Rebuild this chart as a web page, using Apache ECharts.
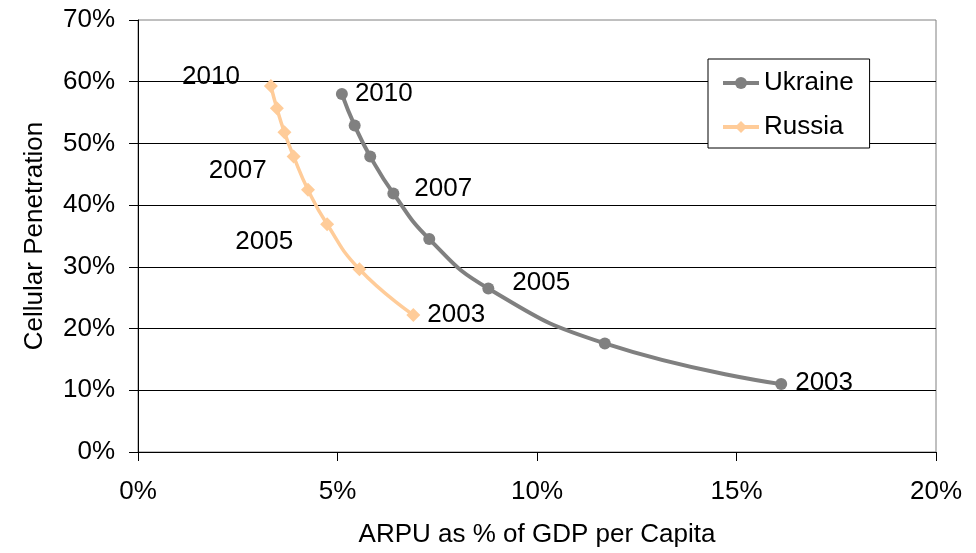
<!DOCTYPE html>
<html>
<head>
<meta charset="utf-8">
<script src="https://cdn.jsdelivr.net/npm/echarts@6/dist/echarts.min.js"></script>
<style>
html,body{margin:0;padding:0;background:#fff;}
#chart{width:976px;height:553px;}
</style>
</head>
<body>
<div id="chart"></div>
<script>
const years = [2003, 2004, 2005, 2006, 2007, 2008, 2009, 2010];
const ukraineX = [16.12, 11.70, 8.78, 7.30, 6.40, 5.82, 5.43, 5.11];
const ukraineY = [11.0, 17.6, 26.5, 34.5, 41.9, 47.9, 52.9, 58.0];
const russiaX = [6.90, 5.55, 4.74, 4.26, 3.90, 3.67, 3.48, 3.33];
const russiaY = [22.2, 29.6, 36.9, 42.5, 47.9, 51.8, 55.7, 59.3];
const labelledYears = [2003, 2005, 2007, 2010];
const xTicks = [0, 5, 10, 15, 20];
const yTicks = [0, 10, 20, 30, 40, 50, 60, 70];

const FONT = "'Liberation Sans', Arial, sans-serif";

// label placement (side, gap from point centre, vertical offset)
const ukraineLabelPlace = {
  2010: ['right', 13, 0],
  2007: ['right', 21, -5],
  2005: ['right', 24, -6],
  2003: ['right', 14, -1]
};
const russiaLabelPlace = {
  2010: ['left', 30, -9],
  2007: ['left', 26, 14],
  2005: ['left', 33, 18],
  2003: ['right', 13, 0]
};

function buildData(xs, ys, place, r) {
  return years.map((yr, i) => {
    const item = { value: [xs[i], ys[i]] };
    if (labelledYears.includes(yr)) {
      const p = place[yr];
      item.label = {
        show: true,
        formatter: String(yr),
        position: p[0],
        distance: p[1] - r,
        offset: [0, p[2]],
        fontSize: 26,
        fontFamily: FONT,
        color: '#000'
      };
    }
    return item;
  });
}

const chart = echarts.init(document.getElementById('chart'));
chart.setOption({
  animation: false,
  backgroundColor: '#fff',
  textStyle: { fontFamily: FONT },
  grid: {
    left: 138, right: 40, top: 20, bottom: 101,
    show: true, borderColor: '#808080', borderWidth: 1
  },
  legend: {
    orient: 'vertical',
    left: 708, top: 59,
    padding: [11, 16, 8, 13],
    itemWidth: 36, itemHeight: 15,
    itemGap: 18,
    borderColor: '#000', borderWidth: 1,
    backgroundColor: '#fff',
    lineStyle: { width: 4 },
    textStyle: { fontSize: 26, fontFamily: FONT, color: '#000' },
    data: ['Ukraine', 'Russia']
  },
  xAxis: {
    type: 'value',
    min: xTicks[0], max: xTicks[xTicks.length - 1], interval: 5,
    name: 'ARPU as % of GDP per Capita',
    nameLocation: 'middle', nameGap: 70,
    nameTextStyle: { fontSize: 26, fontFamily: FONT, color: '#000' },
    axisLine: { show: true, lineStyle: { color: '#000', width: 1 } },
    axisTick: { show: true, length: 9, lineStyle: { color: '#000' } },
    axisLabel: { formatter: '{value}%', fontSize: 26, fontFamily: FONT, color: '#000', margin: 27 },
    splitLine: { show: false }
  },
  yAxis: {
    type: 'value',
    min: yTicks[0], max: yTicks[yTicks.length - 1], interval: 10,
    name: 'Cellular Penetration',
    nameLocation: 'middle', nameGap: 90,
    nameTextStyle: { fontSize: 26, fontFamily: FONT, color: '#000' },
    axisLine: { show: true, lineStyle: { color: '#000', width: 1 } },
    axisTick: { show: true, length: 9, lineStyle: { color: '#000' } },
    axisLabel: { formatter: '{value}%', fontSize: 26, fontFamily: FONT, color: '#000', margin: 23 },
    splitLine: { show: true, showMinLine: false, showMaxLine: false, lineStyle: { color: '#000', width: 1 } }
  },
  series: [
    {
      name: 'Ukraine',
      type: 'line',
      smooth: 0.5,
      symbol: 'circle',
      symbolSize: 12,
      color: '#808080',
      lineStyle: { color: '#808080', width: 4 },
      itemStyle: { color: '#808080' },
      z: 3,
      data: buildData(ukraineX, ukraineY, ukraineLabelPlace, 6)
    },
    {
      name: 'Russia',
      type: 'line',
      smooth: 0.5,
      symbol: 'diamond',
      symbolSize: 14,
      color: '#FFCC99',
      lineStyle: { color: '#FFCC99', width: 3.5 },
      itemStyle: { color: '#FFCC99' },
      z: 2,
      data: buildData(russiaX, russiaY, russiaLabelPlace, 6)
    }
  ]
});
</script>
</body>
</html>
